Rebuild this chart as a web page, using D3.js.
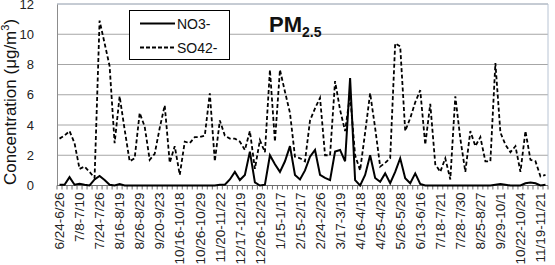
<!DOCTYPE html>
<html>
<head>
<meta charset="utf-8">
<script src="https://cdn.jsdelivr.net/npm/d3@7"></script>
<style>
  html, body { margin: 0; padding: 0; background: #fff; }
  svg { display: block; }
  text { font-family: "Liberation Sans", Arial, sans-serif; }
</style>
</head>
<body>
<svg id="chart" width="555" height="265"></svg>
<script>
// ---------- data ----------
const tickLabels = ["6/24-6/26","7/8-7/10","7/24-7/26","8/16-8/19","8/26-8/29","9/20-9/23",
  "10/16-10/18","10/26-10/29","11/20-11/22","12/17-12/19","12/26-12/29","1/15-1/17",
  "2/15-2/17","2/24-2/26","3/17-3/19","4/16-4/18","4/25-4/28","5/26-5/28","6/13-6/16",
  "7/18-7/21","7/28-7/30","8/25-8/27","9/29-10/1","10/22-10/24","11/19-11/21"];
const labelEvery = 4;
const seriesNames = ["NO3-", "SO42-"];
const no3 = [0.05,0.05,0.55,0.05,0.12,0.05,0.0,0.4,0.63,0.36,
  0.05,0.0,0.1,0.0,0.0,0.0,0.0,0.0,0.0,0.0,
  0.0,0.0,0.0,0.0,0.0,0.0,0.0,0.0,0.0,0.0,
  0.0,0.0,0.05,0.05,0.4,0.9,0.36,0.7,2.24,0.2,
  0.0,0.05,2.0,1.4,0.9,1.6,2.6,0.7,0.4,1.0,
  1.9,2.35,0.7,0.5,0.36,2.24,2.35,1.6,7.1,0.36,
  0.0,0.7,2.0,0.5,0.25,0.8,0.15,0.9,1.8,0.48,
  0.15,0.8,0.1,0.0,0.0,0.0,0.0,0.0,0.0,0.0,
  0.0,0.0,0.0,0.0,0.0,0.0,0.0,0.05,0.1,0.05,
  0.0,0.0,0.0,0.15,0.2,0.15,0.0,0.05];
const so4 = [3.1,3.3,3.6,2.8,1.1,1.25,0.9,0.5,10.9,9.4,
  7.9,2.8,5.9,3.7,1.6,1.8,4.8,3.9,1.7,2.1,
  3.8,5.3,1.5,2.6,0.7,2.9,2.8,3.2,3.2,3.3,
  6.1,1.6,4.3,3.3,3.1,3.1,2.9,2.35,3.6,1.1,
  3.0,2.2,7.65,2.9,7.65,6.2,4.8,1.9,1.8,1.6,
  4.3,5.1,5.8,2.0,2.0,6.9,5.0,3.6,6.0,2.0,
  1.0,3.5,6.1,3.8,1.25,1.5,1.8,9.4,9.2,3.6,
  4.45,5.5,6.3,2.7,5.4,1.4,0.9,1.8,0.4,5.9,
  3.1,0.9,3.6,2.6,3.2,1.6,1.6,8.1,3.5,2.7,
  2.2,2.6,0.9,3.6,1.7,1.6,0.6,0.7];
const yTicks = [0,2,4,6,8,10,12];

// ---------- layout ----------
const svg = d3.select("#chart");
const L = 57, R = 548, T = 4, B = 185.5;
const idx = d3.range(so4.length);
const x = d3.scaleBand().domain(idx).range([L, R]).paddingInner(0).paddingOuter(0);
const y = d3.scaleLinear().domain([0, 12]).range([B, T]);
const cx = i => x(i) + x.bandwidth() / 2;

// gridlines
svg.append("g").selectAll("line").data(yTicks.filter(d => d > 0)).join("line")
  .attr("x1", L).attr("x2", R)
  .attr("y1", d => y(d)).attr("y2", d => y(d))
  .attr("stroke", "#a6a6a6").attr("stroke-width", 1);

// plot border (right/top)
svg.append("line").attr("x1", R).attr("x2", R).attr("y1", T).attr("y2", B)
  .attr("stroke", "#b8c4d4").attr("stroke-width", 1);
svg.append("line").attr("x1", L).attr("x2", R).attr("y1", T).attr("y2", T)
  .attr("stroke", "#b8c4d4").attr("stroke-width", 1);

// y axis
const yAxis = d3.axisLeft(y).tickValues(yTicks).tickSize(0).tickPadding(23);
const gy = svg.append("g").attr("transform", `translate(${L},0)`).call(yAxis);
gy.select(".domain").attr("stroke", "#8c8c8c");
gy.selectAll("text").attr("font-size", 13).attr("fill", "#222")
  .attr("font-family", "Liberation Sans, Arial, sans-serif");

// x axis
const gx = svg.append("g").attr("transform", `translate(0,${B})`);
gx.append("line").attr("x1", L).attr("x2", R).attr("stroke", "#6e6e6e").attr("stroke-width", 1.2);
gx.selectAll("line.tk").data(d3.range(so4.length + 1)).join("line").attr("class", "tk")
  .attr("x1", i => L + i * x.step()).attr("x2", i => L + i * x.step())
  .attr("y1", 0).attr("y2", 4).attr("stroke", "#6e6e6e").attr("stroke-width", 1);
gx.selectAll("text").data(tickLabels).join("text")
  .attr("transform", (d, k) => `translate(${cx(k * labelEvery)},7) rotate(-90)`)
  .attr("text-anchor", "end").attr("dy", "0.35em")
  .attr("font-size", 13.5).attr("fill", "#222")
  .text(d => d);

// lines
const lineGen = d3.line().x((d, i) => cx(i)).y(d => y(d));
svg.append("path").datum(so4).attr("d", lineGen)
  .attr("fill", "none").attr("stroke", "#000").attr("stroke-width", 1.8)
  .attr("stroke-dasharray", "4,2.5");
svg.append("path").datum(no3).attr("d", lineGen)
  .attr("fill", "none").attr("stroke", "#000").attr("stroke-width", 2);

// legend
const lg = svg.append("g");
lg.append("rect").attr("x", 129.5).attr("y", 10.5).attr("width", 100).attr("height", 49)
  .attr("fill", "#fff").attr("stroke", "#000").attr("stroke-width", 1);
lg.append("line").attr("x1", 140).attr("x2", 175).attr("y1", 23.5).attr("y2", 23.5)
  .attr("stroke", "#000").attr("stroke-width", 1.8);
lg.append("line").attr("x1", 140).attr("x2", 175).attr("y1", 47.5).attr("y2", 47.5)
  .attr("stroke", "#000").attr("stroke-width", 1.8).attr("stroke-dasharray", "4,2");
lg.append("text").attr("x", 177).attr("y", 28.5).attr("font-size", 14).attr("fill", "#111").text(seriesNames[0]);
lg.append("text").attr("x", 177).attr("y", 52.5).attr("font-size", 14).attr("fill", "#111").text(seriesNames[1]);

// title
const title = svg.append("text").attr("x", 269).attr("y", 32).attr("font-size", 22)
  .attr("font-weight", "bold").attr("fill", "#111");
title.append("tspan").text("PM");
title.append("tspan").attr("font-size", 14).attr("dy", 5).text("2.5");

// y axis title
const yt = svg.append("text").attr("transform", "translate(16,102) rotate(-90)")
  .attr("text-anchor", "middle").attr("font-size", 17).attr("fill", "#111");
yt.append("tspan").text("Concentration (μg/m");
yt.append("tspan").attr("font-size", 11).attr("dy", -7).text("3");
yt.append("tspan").attr("dy", 7).text(")");
</script>
</body>
</html>
